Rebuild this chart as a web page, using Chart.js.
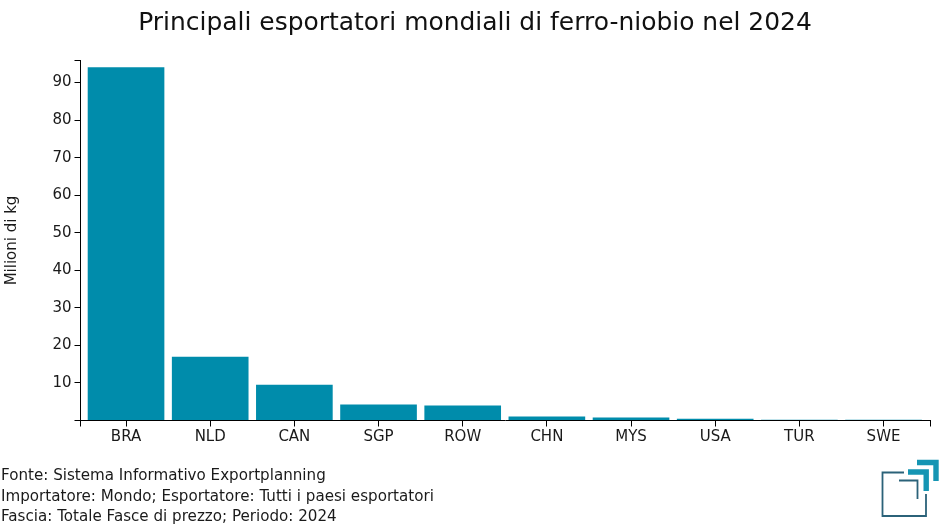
<!DOCTYPE html>
<html lang="it">
<head>
<meta charset="utf-8">
<title>Esportatori ferro-niobio</title>
<script src="https://cdn.jsdelivr.net/npm/chart.js@4/dist/chart.umd.min.js"></script>
<style>
    html, body { margin: 0; padding: 0; background: #fff; }
    #wrap { position: relative; width: 950px; height: 530px; overflow: hidden; }
    #chart { position: absolute; left: 0; top: 0; }
    #title {
        position: absolute; left: 0; top: 7px; width: 950px; text-align: center;
        font: 24.95px/30px "DejaVu Sans", sans-serif; color: #111; white-space: nowrap;
    }
    #notes {
        position: absolute; left: 1px; top: 465px;
        font: 15.13px/20.6px "DejaVu Sans", sans-serif; color: #1a1a1a; white-space: nowrap;
    }
    #logo { position: absolute; left: 870px; top: 450px; }
</style>
</head>
<body>
<div id="wrap">
    <canvas id="chart" width="950" height="530"></canvas>
    <div id="title">Principali esportatori mondiali di ferro-niobio nel 2024</div>
    <div id="notes">
        <div>Fonte: Sistema Informativo Exportplanning</div>
        <div>Importatore: Mondo; Esportatore: Tutti i paesi esportatori</div>
        <div>Fascia: Totale Fasce di prezzo; Periodo: 2024</div>
    </div>
    <svg id="logo" width="80" height="80" fill="none">
        <path d="M34 22.5H12.5V66H56V44" stroke="#2b6279" stroke-width="1.8"/>
        <path d="M29 30.5H47.5V49" stroke="#2b6279" stroke-width="1.8"/>
        <path d="M38 22H56.2V41" stroke="#1595b3" stroke-width="5.4"/>
        <path d="M47 12.5H66V31" stroke="#1595b3" stroke-width="5.4"/>
    </svg>
</div>
<script>
const countries = ['BRA', 'NLD', 'CAN', 'SGP', 'ROW', 'CHN', 'MYS', 'USA', 'TUR', 'SWE'];
const exportsKg = [94.0, 16.9, 9.4, 4.2, 3.9, 0.95, 0.7, 0.4, 0.01, 0.01];
const yTicks = [10, 20, 30, 40, 50, 60, 70, 80, 90];

// axis ends, the ticks at both ends carry no label
const yMin = 0;
const yMax = 95.87;
const xMin = -0.541;
const xMax = 9.558;

const INK = '#000000';
const LABEL = '#1a1a1a';
const FONT = '"DejaVu Sans", sans-serif';

const points = countries.map((_, i) => ({ x: i, y: exportsKg[i] }));

new Chart(document.getElementById('chart').getContext('2d'), {
    type: 'bar',
    data: {
        datasets: [{
            data: points,
            backgroundColor: '#008cab',
            barThickness: 76
        }]
    },
    options: {
        responsive: false,
        animation: false,
        devicePixelRatio: 1,
        layout: { padding: { left: 0, right: 19.5, top: 60.5, bottom: 79.5 } },
        plugins: {
            legend: { display: false },
            tooltip: { enabled: false }
        },
        scales: {
            x: {
                type: 'linear',
                min: xMin,
                max: xMax,
                offset: false,
                afterBuildTicks: (axis) => {
                    const all = [xMin, ...countries.map((_, i) => i), xMax];
                    axis.ticks = all.map(value => ({ value }));
                },
                afterFit: (axis) => { axis.height = 30; },
                // axis line stays above the bars
                border: { color: INK, width: 1, z: 1 },
                grid: { offset: false, drawOnChartArea: false, tickColor: INK, tickLength: 6, tickWidth: 1 },
                ticks: {
                    autoSkip: false,
                    maxRotation: 0,
                    padding: 2,
                    color: LABEL,
                    font: { family: FONT, size: 15 },
                    callback: (value) => Number.isInteger(value) ? countries[value] : ''
                }
            },
            y: {
                min: yMin,
                max: yMax,
                afterBuildTicks: (axis) => {
                    axis.ticks = [yMin, ...yTicks, yMax].map(value => ({ value }));
                },
                afterFit: (axis) => { axis.width = 80.5; },
                border: { color: INK, width: 1 },
                grid: { drawOnChartArea: false, tickColor: INK, tickLength: 6, tickWidth: 1 },
                title: {
                    display: true,
                    text: 'Milioni di kg',
                    color: LABEL,
                    font: { family: FONT, size: 15 },
                    padding: { top: 3, bottom: 0 }
                },
                ticks: {
                    padding: 3,
                    color: LABEL,
                    font: { family: FONT, size: 15 },
                    callback: (value) => yTicks.includes(value) ? String(value) : ''
                }
            }
        }
    }
});
</script>
</body>
</html>
